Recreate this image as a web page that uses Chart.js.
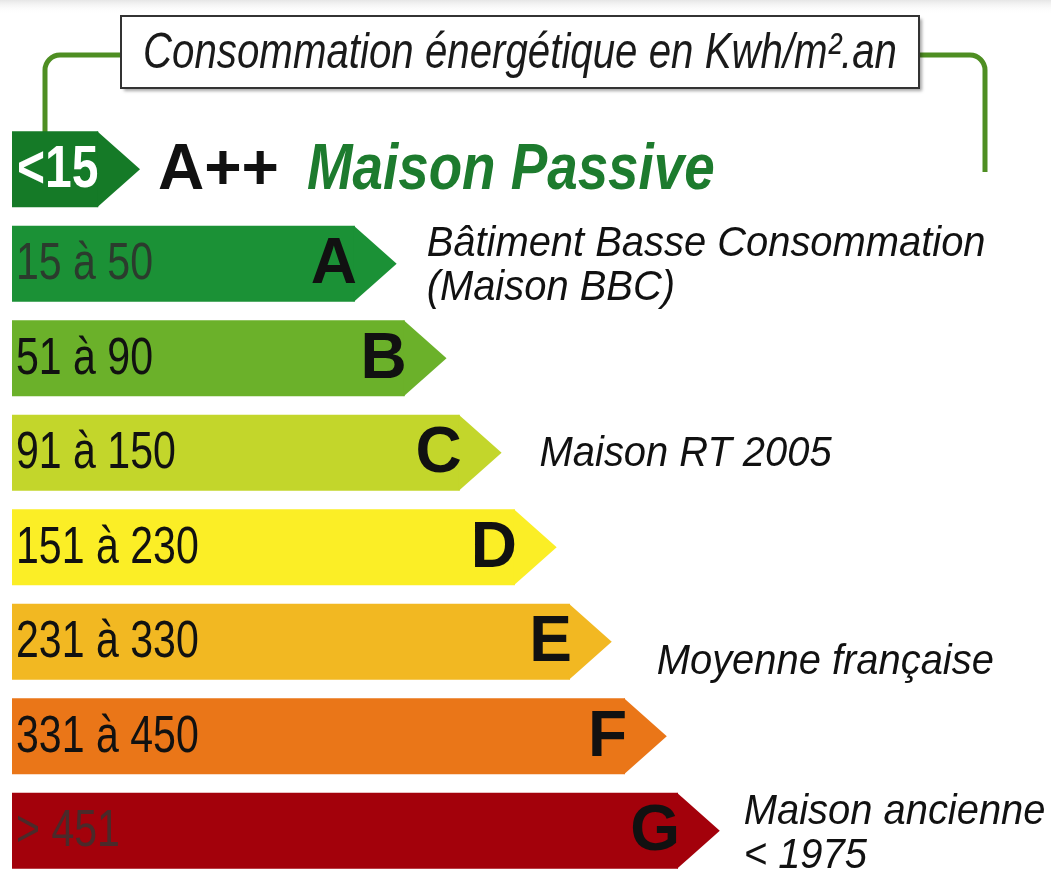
<!DOCTYPE html>
<html lang="fr">
<head>
<meta charset="utf-8">
<title>Consommation énergétique</title>
<script src="https://cdn.jsdelivr.net/npm/chart.js@4.4.1/dist/chart.umd.min.js"></script>
<style>
  html, body { margin: 0; padding: 0; background: #fff; }
  #wrap { width: 1051px; height: 878px; }
</style>
</head>
<body>
<div id="wrap"><canvas id="dpeChart" width="1051" height="878"></canvas></div>
<script>
const classes = ['A++', 'A', 'B', 'C', 'D', 'E', 'F', 'G']
const ranges = ['<15', '15 à 50', '51 à 90', '91 à 150', '151 à 230', '231 à 330', '331 à 450', '> 451']
// longueur de la partie rectangulaire de chaque étiquette (unités arbitraires, 0-100)
const barLengths = [8.3, 33.0, 37.8, 43.1, 48.4, 53.7, 59.0, 64.1]
const barColors = ['#157a27', '#1b9136', '#6bb12a', '#c3d62b', '#fbee26', '#f2b822', '#ea7618', '#a3010b']
const rangeColors = ['#ffffff', '#2b3b2d', '#111111', '#111111', '#111111', '#111111', '#111111', '#4a2a2a']
const notes = ['Maison Passive', 'Bâtiment Basse Consommation\n(Maison BBC)', '', 'Maison RT 2005', '', 'Moyenne française', '', 'Maison ancienne\n< 1975']
const title = 'Consommation énergétique en Kwh/m².an'

const SANS = "'Liberation Sans', Arial, sans-serif"

// decalage des notes par rapport à la pointe [dx, dy]
const noteOffsets = { 1: [30, 3], 3: [38, 2], 5: [45, 21], 7: [24, 4] }

// texte "étroit" : on compresse horizontalement (pas de police narrow dispo)
const narrowText = (ctx, text, x, y, ratio) => {
    const w = ctx.measureText(text).width
    ctx.fillText(text, x, y, w * ratio)
    return w * ratio
}

const dpePlugin = {
    id: 'dpe',
    beforeDraw(chart) {
        const { ctx, width } = chart
        ctx.save()
        ctx.fillStyle = '#fff'
        ctx.fillRect(0, 0, width, chart.height)
        const g = ctx.createLinearGradient(0, 0, 0, 14)
        g.addColorStop(0, '#e6e6e6')
        g.addColorStop(1, 'rgba(255,255,255,0)')
        ctx.fillStyle = g
        ctx.fillRect(0, 0, width, 14)
        ctx.restore()
    },
    beforeDatasetsDraw(chart) {
        const { ctx } = chart
        ctx.save()
        // accolade verte
        ctx.strokeStyle = '#4e8e22'
        ctx.lineWidth = 5
        ctx.beginPath()
        ctx.moveTo(45, 150)
        ctx.lineTo(45, 70)
        ctx.arcTo(45, 55, 60, 55, 15)
        ctx.lineTo(125, 55)
        ctx.moveTo(915, 55)
        ctx.lineTo(970, 55)
        ctx.arcTo(985, 55, 985, 70, 15)
        ctx.lineTo(985, 172)
        ctx.stroke()
        // cadre du titre
        ctx.shadowColor = 'rgba(0,0,0,0.35)'
        ctx.shadowOffsetX = 3
        ctx.shadowOffsetY = 3
        ctx.shadowBlur = 3
        ctx.fillStyle = '#fff'
        ctx.fillRect(121, 16, 798, 72)
        ctx.shadowColor = 'transparent'
        ctx.strokeStyle = '#333'
        ctx.lineWidth = 2
        ctx.strokeRect(121, 16, 798, 72)
        ctx.font = `italic 50px ${SANS}`
        ctx.fillStyle = '#1a1a1a'
        ctx.textAlign = 'center'
        ctx.textBaseline = 'middle'
        ctx.fillText(title, 520, 54, 754)
        ctx.restore()
    },
    afterDatasetsDraw(chart) {
        const { ctx } = chart
        const yScale = chart.scales.y
        const bars = chart.getDatasetMeta(0).data
        ctx.save()
        bars.forEach((bar, i) => {
            const h = bar.height
            const tip = h * 0.55
            // pointe de la flèche
            ctx.fillStyle = barColors[i]
            ctx.beginPath()
            ctx.moveTo(bar.x - 1, bar.y - h / 2)
            ctx.lineTo(bar.x + tip, bar.y)
            ctx.lineTo(bar.x - 1, bar.y + h / 2)
            ctx.closePath()
            ctx.fill()

            // libellé de la tranche, à la position de l'axe des catégories
            const ty = yScale.getPixelForTick(i)
            ctx.textBaseline = 'middle'
            ctx.textAlign = 'left'
            ctx.fillStyle = rangeColors[i]
            ctx.font = i === 0 ? `bold 60px ${SANS}` : `52px ${SANS}`
            narrowText(ctx, chart.data.labels[i], chart.chartArea.left + (i === 0 ? 5 : 4), ty + 1, i === 0 ? 0.8 : 0.79)

            if (i === 0) {
                let x = bar.x + tip + 18
                ctx.font = `bold 64px ${SANS}`
                ctx.fillStyle = '#111'
                ctx.fillText(classes[0], x, bar.y + 2)
                x += ctx.measureText(classes[0]).width + 28
                ctx.font = `italic bold 64px ${SANS}`
                ctx.fillStyle = '#1d7b2e'
                narrowText(ctx, notes[0], x, bar.y + 2, 0.855)
                return
            }
            ctx.font = `bold 64px ${SANS}`
            ctx.fillStyle = '#111'
            ctx.textAlign = 'right'
            ctx.fillText(classes[i], bar.x + 2, bar.y + 2)

            if (notes[i]) {
                const [dx, dy] = noteOffsets[i] || [30, 0]
                const lines = notes[i].split('\n')
                ctx.font = `italic 42px ${SANS}`
                ctx.textAlign = 'left'
                ctx.fillStyle = '#111'
                const y0 = bar.y + dy - (lines.length - 1) * 22
                lines.forEach((l, k) => narrowText(ctx, l, bar.x + tip + dx, y0 + k * 44, 0.95))
            }
        })
        ctx.restore()
    }
}

new Chart('dpeChart', {
    type: 'bar',
    data: {
        labels: ranges,
        datasets: [{
            data: barLengths,
            backgroundColor: barColors,
            borderWidth: 0,
            barPercentage: 0.804,
            categoryPercentage: 1
        }]
    },
    options: {
        indexAxis: 'y',
        responsive: false,
        animation: false,
        layout: { padding: { left: 12, top: 122, right: 0, bottom: 0 } },
        plugins: {
            legend: { display: false },
            tooltip: { enabled: false }
        },
        scales: {
            x: { display: false, min: 0, max: 100 },
            y: { display: false }
        }
    },
    plugins: [dpePlugin]
})
</script>
</body>
</html>
